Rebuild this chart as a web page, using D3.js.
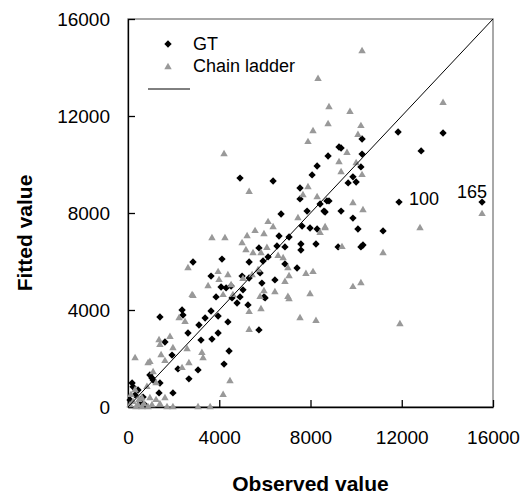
<!DOCTYPE html>
<html>
<head>
<meta charset="utf-8">
<script src="https://cdn.jsdelivr.net/npm/d3@7"></script>
<style>
  body { margin: 0; background: #fff; }
  text { font-family: "Liberation Sans", Arial, sans-serif; }
</style>
</head>
<body>
<svg></svg>
<script>
// GT fitted values: [observed, fitted]
var gtPoints = [
    [9250, 10720], [8770, 10350], [10260, 11050], [9340, 10680], [10260, 10430],
    [11840, 11340], [13810, 11300], [12850, 10560], [8290, 9940], [8070, 9570],
    [4910, 9440], [6360, 9320], [7540, 9030], [7540, 8580], [8720, 8500],
    [8420, 8370], [7850, 8080], [8640, 8040], [6710, 7960], [7630, 7460],
    [7980, 7380], [8290, 7340], [6620, 7050], [7060, 7010], [7580, 6720],
    [7580, 6470], [8240, 6720], [5740, 6560], [6530, 6640], [6880, 6600],
    [6140, 6190], [5920, 6020], [4120, 6100], [2850, 5980], [6880, 5900],
    [7410, 5730], [5310, 5980], [10210, 9900], [9860, 9490], [9650, 9240],
    [10000, 9280], [8810, 8500], [8590, 8080], [9340, 8080], [9860, 7790],
    [10080, 7340], [11180, 7260], [11880, 8450], [15520, 8450], [9210, 6600],
    [10210, 6600], [10300, 6680], [3640, 5400], [5000, 5400], [5310, 5320],
    [5790, 5530], [6440, 5240], [5870, 5110], [4080, 4950], [4300, 4910],
    [4520, 4990], [5040, 4830], [3860, 4540], [4560, 4500], [5960, 4540],
    [4910, 4540], [4780, 4290], [5260, 4210], [6010, 4500], [5740, 3180],
    [1400, 3710], [2370, 4000], [2410, 3790], [3110, 3380], [3640, 3960],
    [3950, 3750], [3380, 3670], [4380, 3510], [2630, 3050], [3200, 2760],
    [3680, 2800], [3950, 3050], [4430, 2310], [4210, 1770], [1620, 2680],
    [1930, 2140], [2190, 1570], [2670, 1160], [3070, 1530], [960, 1320],
    [1100, 1110], [1400, 990], [1360, 580], [1970, 580], [660, 410],
    [180, 990], [220, 830], [1050, 1200], [90, 290], [310, 500],
    [530, 210], [750, 80], [440, 700]
]

// Chain ladder fitted values: [observed, fitted]
var chainLadderPoints = [
    [8330, 13530], [8810, 12370], [8770, 11670], [8110, 11380], [7890, 10930],
    [4210, 10430], [10260, 14680], [9730, 12170], [10210, 11590], [10080, 11220],
    [9600, 10480], [13810, 12540], [5310, 8870], [7890, 9070], [7670, 8740],
    [8290, 8660], [7450, 7790], [6140, 7630], [6360, 7420], [8640, 7380],
    [5570, 7260], [5960, 7130], [5220, 7050], [3680, 6970], [4250, 6970],
    [5000, 6760], [6090, 6560], [5170, 6470], [5480, 6350], [5830, 6350],
    [6580, 6230], [6800, 6140], [2630, 5730], [7010, 5730], [5700, 5650],
    [3950, 5570], [3990, 5240], [4380, 5440], [3510, 4990], [2850, 4580],
    [4520, 5030], [5040, 5280], [5440, 5440], [7060, 5400], [7800, 5490],
    [8110, 5570], [6880, 5160], [6440, 4740], [7980, 4660], [5790, 4540],
    [7010, 4540], [9250, 10100], [10000, 10060], [9340, 9690], [10260, 9570],
    [9860, 8410], [10300, 8120], [8640, 7420], [12800, 7380], [15520, 7960],
    [9380, 6600], [11180, 6350], [10210, 5110], [9860, 4950], [8420, 7180],
    [2810, 4620], [5960, 4780], [7060, 4450], [8240, 3550], [7540, 3670],
    [5310, 3920], [5830, 4040], [5310, 3180], [4170, 4620], [4600, 4620],
    [2240, 3670], [2500, 3510], [1840, 2890], [1360, 2760], [1400, 2560],
    [1970, 2430], [3240, 2230], [3290, 2020], [2670, 1810], [1450, 2140],
    [1620, 1900], [960, 1860], [1100, 1440], [1230, 990], [830, 830],
    [1620, 370], [960, 370], [4470, 1070], [4170, 500], [3070, 0],
    [3600, 0], [1710, 0], [1970, 0], [610, 0], [2370, 1610],
    [2590, 2390], [11920, 3420], [310, 2020], [880, 1810], [90, 80],
    [220, 210], [350, 0], [480, 290], [700, 120], [880, 0],
    [1050, 80], [130, 500], [1230, 290], [310, 700], [440, 80],
    [610, 370], [1400, 120]
]

var seriesNames = ["GT", "Chain ladder"]
var xTicks = [0, 4000, 8000, 12000, 16000]
var yTicks = [0, 4000, 8000, 12000, 16000]
var diagonal = [[0, 0], [16000, 16000]]

// labelled outliers: [observed, fitted, label]
var pointLabels = [
    [11880, 8450, "100"],
    [15520, 8450, "165"]
]

var margin = { top: 19, right: 31, bottom: 91, left: 128 },
    width = 524 - margin.left - margin.right,
    height = 498 - margin.top - margin.bottom

var svg = d3.select("svg")
    .attr("width", 524)
    .attr("height", 498)
    .append("g")
    .attr("transform", "translate(" + margin.left + "," + margin.top + ")")

var xScale = d3.scaleLinear().domain([0, 16000]).range([0, width])
var yScale = d3.scaleLinear().domain([0, 16000]).range([height, 0])

// frame: grey top / right edges
svg.append("rect")
    .attr("x", 0)
    .attr("y", 0)
    .attr("width", width)
    .attr("height", height)
    .attr("fill", "none")
    .attr("stroke", "#8c8c8c")
    .attr("stroke-width", 1.5)

var xAxis = svg.append("g")
    .attr("transform", "translate(0," + height + ")")
    .call(d3.axisBottom(xScale).tickValues(xTicks).tickFormat(d3.format("d"))
        .tickSizeInner(-7).tickSizeOuter(0).tickPadding(24))

var yAxis = svg.append("g")
    .call(d3.axisLeft(yScale).tickValues(yTicks).tickFormat(d3.format("d"))
        .tickSizeInner(-7).tickSizeOuter(0).tickPadding(18))

svg.selectAll(".domain, .tick line")
    .attr("stroke", "#000")
    .attr("stroke-width", 1.3)

svg.selectAll(".tick text")
    .attr("font-size", 19)
    .attr("fill", "#000")

var diamond = d3.symbol().type(d3.symbolSquare).size(27)
var triangle = d3.symbol().type(d3.symbolTriangle).size(24)

svg.append("g")
    .selectAll("path")
    .data(gtPoints)
    .enter()
    .append("path")
    .attr("d", diamond)
    .attr("transform", function(d) { return "translate(" + xScale(d[0]) + "," + yScale(d[1]) + ")rotate(45)" })
    .attr("fill", "#000")

svg.append("g")
    .selectAll("path")
    .data(chainLadderPoints)
    .enter()
    .append("path")
    .attr("d", triangle)
    .attr("transform", function(d) { return "translate(" + xScale(d[0]) + "," + yScale(d[1]) + ")" })
    .attr("fill", "#999999")

var line = d3.line()
    .x(function(d) { return xScale(d[0]) })
    .y(function(d) { return yScale(d[1]) })

svg.append("path")
    .datum(diagonal)
    .attr("d", line)
    .attr("fill", "none")
    .attr("stroke", "#000")
    .attr("stroke-width", 1)

svg.selectAll(".pointLabel")
    .data(pointLabels)
    .enter()
    .append("text")
    .attr("class", "pointLabel")
    .attr("x", function(d, i) { return i == 0 ? xScale(d[0]) + 10 : xScale(d[0]) - 25 })
    .attr("y", function(d, i) { return i == 0 ? yScale(d[1]) + 3 : yScale(d[1]) - 4 })
    .attr("text-anchor", "start")
    .attr("font-size", 18)
    .text(function(d) { return d[2] })

// legend
var legend = svg.append("g")
    .attr("transform", "translate(40,25)")

legend.append("path")
    .attr("d", diamond)
    .attr("transform", "translate(0,0)rotate(45)")
    .attr("fill", "#000")

legend.append("path")
    .attr("d", triangle)
    .attr("transform", "translate(0,23)")
    .attr("fill", "#999999")

legend.append("line")
    .attr("x1", -20)
    .attr("x2", 22)
    .attr("y1", 45)
    .attr("y2", 45)
    .attr("stroke", "#000")

legend.selectAll(".legendText")
    .data(seriesNames)
    .enter()
    .append("text")
    .attr("class", "legendText")
    .attr("x", 25)
    .attr("y", function(d, i) { return i * 22 })
    .attr("dy", "0.35em")
    .attr("font-size", 18)
    .text(function(d) { return d })

svg.append("text")
    .attr("text-anchor", "middle")
    .attr("x", width / 2)
    .attr("y", height + 84)
    .attr("font-size", 21)
    .attr("font-weight", "bold")
    .text("Observed value")

svg.append("text")
    .attr("text-anchor", "middle")
    .attr("transform", "rotate(-90)")
    .attr("x", -height / 2 - 20)
    .attr("y", -96)
    .attr("font-size", 21)
    .attr("font-weight", "bold")
    .text("Fitted value")
</script>
</body>
</html>
